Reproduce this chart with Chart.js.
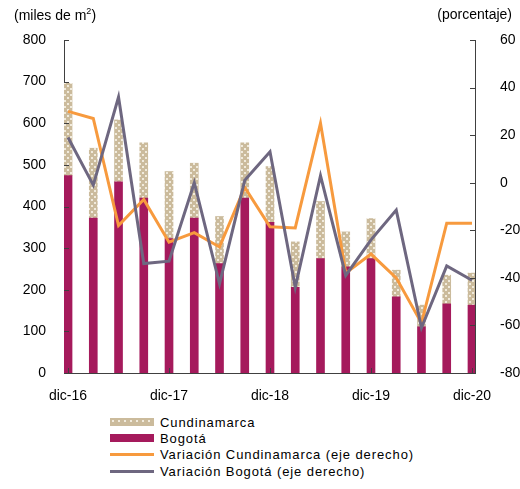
<!DOCTYPE html>
<html lang="es">
<head>
  <meta charset="UTF-8">
  <title>Área aprobada Bogotá y Cundinamarca</title>
  <script src="https://cdn.jsdelivr.net/npm/chart.js"></script>
  <style>
    * {
      margin: 0;
      padding: 0;
      box-sizing: border-box;
      font-family: Arial, "Liberation Sans", sans-serif;
    }

    body {
      width: 520px;
      height: 489px;
      background: #fff;
      position: relative;
      overflow: hidden;
    }

    .chart-box {
      position: absolute;
      left: 0;
      top: 0;
      width: 520px;
      height: 400px;
    }

    .unit {
      position: absolute;
      top: 6px;
      font-size: 14px;
      color: #000;
    }

    .unit.left { left: 14px; }
    .unit.right { right: 8px; }

    /* Legend */
    .legend {
      position: absolute;
      left: 110px;
      top: 414px;
      font-size: 13px;
      letter-spacing: 0.9px;
      color: #000;
    }

    .legend .item {
      display: flex;
      align-items: center;
      height: 16.3px;
    }

    .legend .swatch {
      width: 44px;
      margin-right: 6px;
    }
  </style>
</head>
<body>
  <div class="chart-box">
    <canvas id="chart" width="520" height="400"></canvas>
  </div>
  <div class="unit left">(miles de m<sup style="font-size:9px">2</sup>)</div>
  <div class="unit right">(porcentaje)</div>
  <div class="legend" id="legend"></div>

  <script>
    const labels = ['dic-16', 'mar-17', 'jun-17', 'sep-17', 'dic-17', 'mar-18', 'jun-18', 'sep-18',
      'dic-18', 'mar-19', 'jun-19', 'sep-19', 'dic-19', 'mar-20', 'jun-20', 'sep-20', 'dic-20'];

    const bogota = [474, 372, 459, 420, 323, 372, 263, 420, 362, 206, 275, 255, 275, 183, 111, 166, 163];
    const cundinamarca = [222, 168, 149, 133, 161, 132, 113, 133, 134, 109, 137, 84, 96, 64, 52, 69, 77];
    const varCundinamarca = [30, 27, -18, -7, -25, -21, -27, -2, -18.5, -19, 25, -38, -30, -40, -59, -17, -17];
    const varBogota = [19, -1, 36, -34, -33, 0, -42.5, 1, 13, -44, 3, -39, -24, -11.5, -61, -35, -41];

    const leftTicks = [0, 100, 200, 300, 400, 500, 600, 700, 800];
    const rightTicks = [-80, -60, -40, -20, 0, 20, 40, 60];

    const maroon = '#A51A5C';
    const beige = '#CBBB9C';
    const orange = '#F79A3E';
    const grey = '#6E6780';
    const axisColor = '#404040';

    // dotted fill for Cundinamarca
    function dotPattern() {
      const c = document.createElement('canvas');
      c.width = 6;
      c.height = 6;
      const g = c.getContext('2d');
      g.fillStyle = beige;
      g.fillRect(0, 0, 6, 6);
      g.fillStyle = '#F1EBDD';
      g.fillRect(1, 1, 2, 2);
      g.fillRect(4, 4, 2, 2);
      return g.createPattern(c, 'repeat');
    }

    const pts = arr => arr.map((v, i) => ({ x: i, y: v }));

    // inward tick marks, like the original
    const innerTicks = {
      id: 'innerTicks',
      afterDatasetsDraw(chart) {
        const { ctx, chartArea, scales } = chart;
        ctx.save();
        ctx.strokeStyle = axisColor;
        ctx.lineWidth = 1;
        ctx.beginPath();
        scales.y.ticks.forEach(t => {
          const py = Math.round(scales.y.getPixelForValue(t.value)) + 0.5;
          ctx.moveTo(chartArea.left, py);
          ctx.lineTo(chartArea.left + 5, py);
        });
        scales.y1.ticks.forEach(t => {
          const py = Math.round(scales.y1.getPixelForValue(t.value)) + 0.5;
          ctx.moveTo(chartArea.right, py);
          ctx.lineTo(chartArea.right - 5, py);
        });
        scales.x.ticks.forEach(t => {
          const px = Math.round(scales.x.getPixelForValue(t.value)) + 0.5;
          ctx.moveTo(px, chartArea.bottom);
          ctx.lineTo(px, chartArea.bottom - 5);
        });
        ctx.stroke();
        ctx.restore();
      }
    };

    const tickFont = { family: 'Arial, "Liberation Sans", sans-serif', size: 14 };

    new Chart(document.getElementById('chart'), {
      type: 'bar',
      data: {
        datasets: [
          {
            type: 'line',
            label: 'Variación Bogotá (eje derecho)',
            data: pts(varBogota),
            borderColor: grey,
            borderWidth: 3,
            pointRadius: 0,
            yAxisID: 'y1',
            order: 0
          },
          {
            type: 'line',
            label: 'Variación Cundinamarca (eje derecho)',
            data: pts(varCundinamarca),
            borderColor: orange,
            borderWidth: 3,
            pointRadius: 0,
            yAxisID: 'y1',
            order: 1
          },
          {
            label: 'Bogotá',
            data: pts(bogota),
            backgroundColor: maroon,
            barThickness: 8,
            stack: 'area',
            yAxisID: 'y',
            order: 2
          },
          {
            label: 'Cundinamarca',
            data: pts(cundinamarca),
            backgroundColor: dotPattern(),
            barThickness: 8,
            stack: 'area',
            yAxisID: 'y',
            order: 2
          }
        ]
      },
      options: {
        responsive: false,
        animation: false,
        layout: { padding: { top: 40, left: 0, right: 0, bottom: 0 } },
        plugins: {
          legend: { display: false },
          tooltip: { enabled: false }
        },
        scales: {
          x: {
            type: 'linear',
            offset: false,
            min: -0.16,
            max: 16.12,
            stacked: true,
            grid: { display: false, offset: false },
            border: { color: axisColor },
            ticks: {
              stepSize: 4,
              includeBounds: false,
              color: '#000',
              font: tickFont,
              padding: 7,
              maxRotation: 0,
              callback: v => labels[Math.round(v)] ?? ''
            },
            afterFit: s => { s.height = 27; }
          },
          y: {
            position: 'left',
            stacked: true,
            min: 0,
            max: 800,
            grid: { display: false },
            border: { color: axisColor },
            afterBuildTicks: s => { s.ticks = leftTicks.map(v => ({ value: v })); },
            ticks: { color: '#000', font: tickFont, padding: 10 },
            afterFit: s => { s.width = 64; }
          },
          y1: {
            position: 'right',
            min: -80,
            max: 60,
            grid: { display: false },
            border: { color: axisColor },
            afterBuildTicks: s => { s.ticks = rightTicks.map(v => ({ value: v })); },
            ticks: { color: '#000', font: tickFont, padding: 17 },
            afterFit: s => { s.width = 45; }
          }
        }
      },
      plugins: [innerTicks]
    });

    // HTML legend, one entry per row
    const legendItems = [
      { text: 'Cundinamarca', kind: 'dots' },
      { text: 'Bogotá', kind: 'bar', color: maroon },
      { text: 'Variación Cundinamarca (eje derecho)', kind: 'line', color: orange },
      { text: 'Variación Bogotá (eje derecho)', kind: 'line', color: grey }
    ];
    const legend = document.getElementById('legend');
    legendItems.forEach(it => {
      const row = document.createElement('div');
      row.className = 'item';
      const sw = document.createElement('span');
      sw.className = 'swatch';
      if (it.kind === 'dots') {
        sw.style.height = '8px';
        sw.style.background = `radial-gradient(circle, #F1EBDD 1px, transparent 1.2px) 0 0 / 6px 6px, ${beige}`;
      } else if (it.kind === 'bar') {
        sw.style.height = '8px';
        sw.style.background = it.color;
      } else {
        sw.style.height = '3px';
        sw.style.background = it.color;
      }
      const tx = document.createElement('span');
      tx.textContent = it.text;
      row.appendChild(sw);
      row.appendChild(tx);
      legend.appendChild(row);
    });
  </script>
</body>
</html>
